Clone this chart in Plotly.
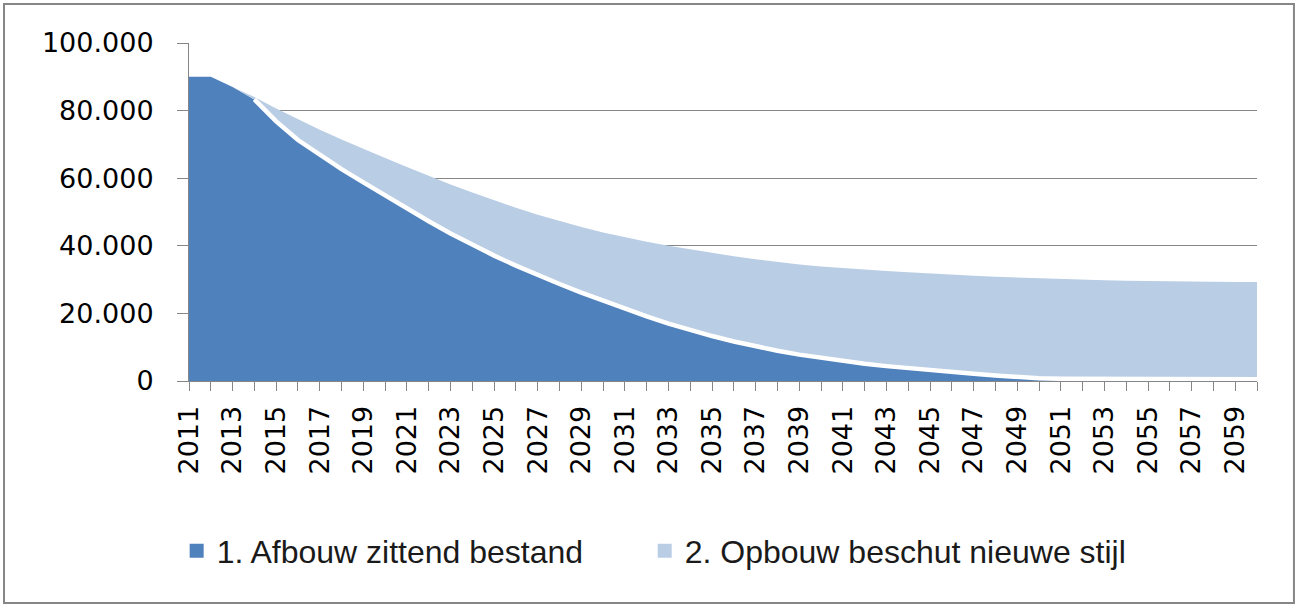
import plotly.graph_objects as go

years = list(range(2011, 2061))

afbouw = [90000, 90000, 87000, 83300, 76800, 71300, 66800, 62700, 58750, 54850,
          51000, 47250, 43650, 40250, 37100, 34150, 31350, 28700, 26150, 23700,
          21350, 19100, 17000, 15050, 13300, 11700, 10250, 8950, 7800, 6800,
          5900, 5100, 4400, 3780, 3200, 2650, 2150, 1650, 1200, 800,
          650, 600, 550, 550, 500, 500, 500, 500, 500, 500]

opbouw_years = list(range(2014, 2061))
opbouw = [700, 3800, 6100, 7550, 8750, 9900, 11100,
          12300, 13450, 14500, 15500, 16350, 17100, 17850, 18600, 19400, 20250,
          21150, 22100, 23000, 23850, 24600, 25200, 25750, 26250, 26700, 27100,
          27500, 27850, 28150, 28420, 28600, 28800, 29000, 29200, 29400, 29550,
          29500, 29350, 29250, 29100, 29050, 28950, 28900, 28850, 28800, 28800]

series_names = ["1. Afbouw zittend bestand", "2. Opbouw beschut nieuwe stijl"]
colors = ["#4F81BD", "#B9CDE5"]
y_ticks = [0, 20000, 40000, 60000, 80000, 100000]

fig = go.Figure()
fig.add_trace(go.Scatter(x=years, y=afbouw, stackgroup="s", mode="lines",
                         line=dict(width=0, color=colors[0]), fillcolor=colors[0],
                         showlegend=False, hoverinfo="skip"))
fig.add_trace(go.Scatter(x=opbouw_years, y=opbouw, stackgroup="s", mode="lines",
                         line=dict(width=0, color=colors[1]), fillcolor=colors[1],
                         showlegend=False, hoverinfo="skip"))
# white separation line on top of series 1 (border of series 2)
fig.add_trace(go.Scatter(x=opbouw_years, y=afbouw[3:], mode="lines",
                         line=dict(width=4.5, color="white"),
                         showlegend=False, hoverinfo="skip"))
# legend entries
for name, col, lg in zip(series_names, colors, ["legend", "legend2"]):
    fig.add_trace(go.Scatter(x=[None], y=[None], mode="markers", name=name,
                             legend=lg,
                             marker=dict(symbol="square", size=14, color=col)))

grey = "#868686"
legend_font = dict(family="Liberation Sans", size=32, color="#1a1a1a")
fig.update_layout(
    width=1299, height=607,
    margin=dict(l=189, r=42, t=43, b=226),
    paper_bgcolor="white", plot_bgcolor="white",
    separators=",.",
    showlegend=True,
    legend=dict(orientation="h", xref="container", yref="container",
                x=0.136, y=0.0923, xanchor="left", yanchor="middle",
                font=legend_font, bgcolor="rgba(0,0,0,0)"),
    legend2=dict(orientation="h", xref="container", yref="container",
                 x=0.4963, y=0.0923, xanchor="left", yanchor="middle",
                 font=legend_font, bgcolor="rgba(0,0,0,0)"),
    xaxis=dict(range=[2011, 2060], showline=True, linecolor=grey, linewidth=1,
               ticks="outside", ticklen=9, tickcolor=grey, tickwidth=1,
               tick0=2011, dtick=2, tickangle=-90, ticklabelstandoff=4,
               tickfont=dict(family="DejaVu Sans", size=27, color="black"),
               showgrid=False, zeroline=False,
               minor=dict(dtick=1, tick0=2011, ticks="outside", ticklen=9,
                          tickcolor=grey, tickwidth=1, showgrid=False)),
    yaxis=dict(range=[0, 100000], tickvals=y_ticks, tickformat=",d",
               showline=True, linecolor=grey, linewidth=1,
               ticks="outside", ticklen=11, tickcolor=grey, tickwidth=1,
               ticklabelstandoff=18,
               tickfont=dict(family="DejaVu Sans", size=27, color="black"),
               showgrid=True, gridcolor=grey, gridwidth=1, zeroline=False),
    shapes=[dict(type="rect", xref="paper", yref="paper",
                 x0=-0.1732, x1=1.0346, y0=-0.6568, y1=1.1154,
                 line=dict(color=grey, width=2), fillcolor="rgba(0,0,0,0)")],
)

fig.write_html("out.html")
